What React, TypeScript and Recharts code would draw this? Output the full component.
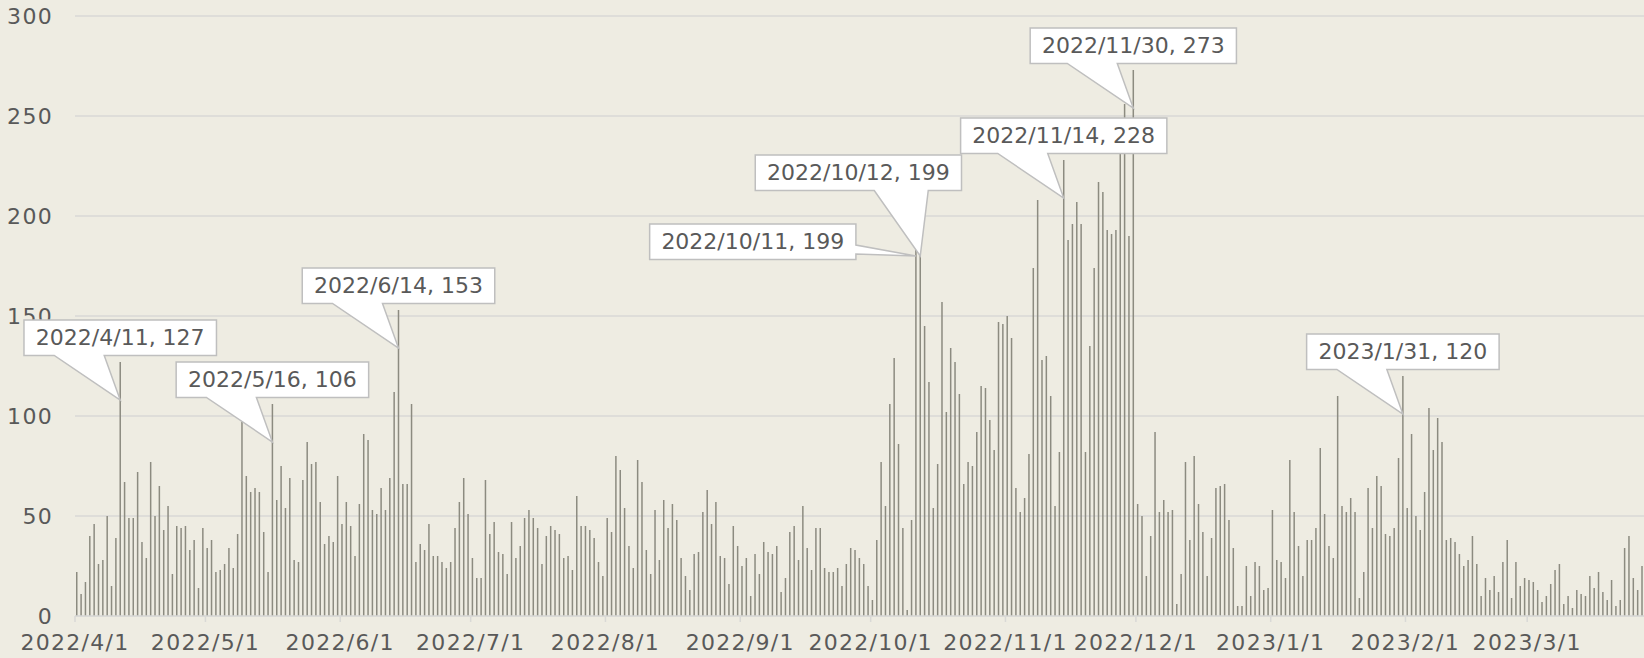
import React from 'react';
import { BarChart, Bar, XAxis, YAxis, CartesianGrid, LabelList } from 'recharts';

// daily counts, one array per month (2022/4/1 .. 2023/3/27 visible)
const apr = [22, 11, 17, 40, 46, 26, 28, 50, 15, 39, 127, 67, 49, 49, 72, 37, 29, 77, 50, 65, 43, 55, 21, 45, 44, 45, 33, 38, 14, 44];
const may = [34, 38, 22, 23, 26, 34, 24, 41, 97, 70, 62, 64, 62, 42, 22, 106, 58, 75, 54, 69, 28, 27, 68, 87, 76, 77, 57, 36, 40, 37, 70];
const jun = [46, 57, 45, 30, 56, 91, 88, 53, 51, 64, 53, 69, 112, 153, 66, 66, 106, 27, 36, 33, 46, 30, 30, 27, 24, 27, 44, 57, 69, 51];
const jul = [29, 19, 19, 68, 41, 47, 32, 31, 21, 47, 29, 35, 49, 53, 49, 44, 26, 40, 45, 43, 41, 29, 30, 23, 60, 45, 45, 43, 39, 27, 20];
const aug = [49, 42, 80, 73, 54, 35, 24, 78, 67, 33, 21, 53, 28, 58, 44, 56, 48, 29, 20, 13, 31, 32, 52, 63, 46, 57, 30, 29, 16, 45, 35];
const sep = [25, 29, 10, 31, 21, 37, 32, 31, 35, 12, 19, 42, 45, 28, 55, 34, 23, 44, 44, 24, 22, 22, 24, 15, 26, 34, 33, 29, 26, 15];
const oct = [8, 38, 77, 55, 106, 129, 86, 44, 3, 48, 199, 199, 145, 117, 54, 76, 157, 102, 134, 127, 111, 66, 77, 75, 92, 115, 114, 98, 83, 147, 146];
const nov = [150, 139, 64, 52, 59, 81, 174, 208, 128, 130, 110, 55, 82, 228, 188, 196, 207, 196, 82, 135, 174, 217, 212, 193, 191, 193, 240, 256, 190, 273];
const dec = [56, 50, 20, 40, 92, 52, 58, 52, 53, 6, 21, 77, 38, 80, 56, 42, 20, 39, 64, 65, 66, 48, 34, 5, 5, 25, 10, 27, 25, 13, 14];
const jan = [53, 28, 27, 19, 78, 52, 35, 20, 38, 38, 44, 84, 51, 35, 29, 110, 55, 52, 59, 52, 9, 22, 64, 44, 70, 65, 41, 40, 44, 79, 120];
const feb = [54, 91, 50, 43, 62, 104, 83, 99, 87, 38, 39, 37, 31, 25, 28, 40, 26, 10, 19, 13, 20, 12, 27, 38, 9, 27, 15, 19];
const mar = [18, 17, 13, 7, 10, 16, 23, 26, 6, 10, 4, 13, 11, 10, 20, 14, 22, 12, 8, 18, 5, 8, 34, 40, 19, 13, 25];

const months = [apr, may, jun, jul, aug, sep, oct, nov, dec, jan, feb, mar];
const yTicks = [0, 50, 100, 150, 200, 250, 300];

// data callouts: date, and where the box sits relative to the point
const callouts = [
  { date: '2022/4/11', kind: 'below' },
  { date: '2022/5/16', kind: 'below' },
  { date: '2022/6/14', kind: 'below' },
  { date: '2022/10/11', kind: 'left' },
  { date: '2022/10/12', kind: 'high' },
  { date: '2022/11/14', kind: 'below' },
  { date: '2022/11/30', kind: 'below' },
  { date: '2023/1/31', kind: 'below' },
];

const START = Date.UTC(2022, 3, 1);
const DAY = 86400000;
const TOTAL_DAYS = 365;

const dateLabel = (d: number) => {
  const t = new Date(START + d * DAY);
  return `${t.getUTCFullYear()}/${t.getUTCMonth() + 1}/${t.getUTCDate()}`;
};

const values = months.flat();
const kindByText: Record<string, string> = {};
const rows = values.map((v, d) => {
  const date = dateLabel(d);
  const c = callouts.find((c) => c.date === date);
  let note: string | undefined;
  if (c) {
    note = `${date}, ${v}`;
    kindByText[note] = c.kind;
  }
  return { x: d + 0.5, v, note };
});

const tickDays: number[] = [];
months.reduce((acc, m) => {
  tickDays.push(acc);
  return acc + m.length;
}, 0);

const TEXT = '#595959';
const GRID = '#d9d9d6';
const FONT = 'DejaVu Sans';

const XTick = (props: any) => (
  <text
    x={props.x}
    y={props.y}
    dy="0.71em"
    textAnchor="middle"
    fontSize={22}
    fill={TEXT}
    fontFamily={FONT}
    style={{ letterSpacing: '1.3px' }}
  >
    {dateLabel(props.payload.value)}
  </text>
);

const YTick = (props: any) => (
  <text
    x={props.x}
    y={props.y}
    dy="0.355em"
    textAnchor="end"
    fontSize={22}
    fill={TEXT}
    fontFamily={FONT}
    style={{ letterSpacing: '1.3px' }}
  >
    {props.payload.value}
  </text>
);

const renderCallout = (props: any) => {
  const text = props.value;
  if (!text) return null;
  const vb = props.viewBox || {};
  const bx = props.x ?? vb.x;
  const by = props.y ?? vb.y;
  const bw = props.width ?? vb.width ?? 0;
  const tx = bx + bw / 2;
  const ty = by + 38;
  const kind = kindByText[text];
  const w = text.length * 13.75;
  const h = 35.5;
  let L: number, T: number, d: string;
  if (kind === 'left') {
    const R = tx - 60;
    L = R - w;
    T = ty - 32;
    d = `M${L},${T} H${R} V${ty - 11} L${tx},${ty} L${R},${ty - 2} V${T + h} H${L} Z`;
  } else {
    if (kind === 'high') {
      L = tx - 165;
      T = ty - 101;
    } else {
      L = tx - w / 2;
      T = ty - 80;
    }
    const b1 = kind === 'high' ? tx - 46 : tx - 66;
    const b2 = kind === 'high' ? tx + 8 : tx - 16;
    const B = T + h;
    d = `M${L},${T} H${L + w} V${B} H${b2} L${tx},${ty} L${b1},${B} H${L} Z`;
  }
  return (
    <g>
      <path d={d} fill="#ffffff" stroke="#bfbfbf" strokeWidth={1.5} />
      <text
        x={L + w / 2}
        y={T + h / 2}
        textAnchor="middle"
        dominantBaseline="central"
        fontSize={22}
        fill={TEXT}
        fontFamily={FONT}
      >
        {text}
      </text>
    </g>
  );
};

export default function App() {
  return (
    <div
      style={{
        width: 1644,
        height: 658,
        overflow: 'hidden',
        background: '#eeece2',
        fontFamily: FONT,
      }}
    >
      <style>{'body{margin:0;overflow:hidden}'}</style>
      <BarChart
        width={1670}
        height={658}
        data={rows}
        margin={{ top: 16, right: 8, left: 0, bottom: 0 }}
      >
        <CartesianGrid vertical={false} stroke={GRID} strokeWidth={1.5} />
        <XAxis
          type="number"
          dataKey="x"
          domain={[0, TOTAL_DAYS]}
          ticks={tickDays}
          interval={0}
          axisLine={{ stroke: GRID, strokeWidth: 1.5 }}
          tickLine={{ stroke: GRID, strokeWidth: 1.5 }}
          tickSize={6}
          tickMargin={12}
          tick={<XTick />}
          height={42}
          allowDataOverflow
        />
        <YAxis
          domain={[0, 300]}
          ticks={yTicks}
          interval={0}
          axisLine={false}
          tickLine={false}
          tickSize={0}
          tickMargin={22}
          width={75}
          tick={<YTick />}
        />
        <Bar dataKey="v" fill="#8c8b80" barSize={1.5} isAnimationActive={false}>
          <LabelList dataKey="note" content={renderCallout} />
        </Bar>
      </BarChart>
    </div>
  );
}
